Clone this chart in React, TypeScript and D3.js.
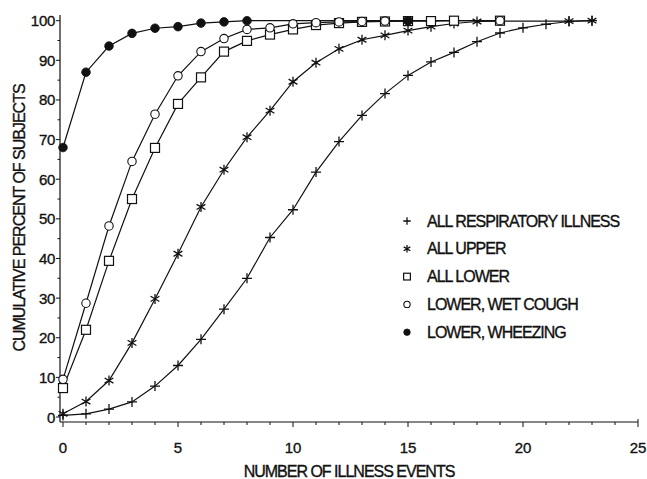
import React, { useEffect, useRef } from 'react';
import * as d3 from 'd3';

// cumulative percent of subjects by number of illness events
const respX = [0, 1, 2, 3, 4, 5, 6, 7, 8, 9, 10, 11, 12, 13, 14, 15, 16, 17, 18, 19, 20, 21, 22, 23];
const respY = [0.4, 0.8, 2, 3.8, 7.8, 13, 19.6, 27.2, 35, 45.3, 52.3, 61.8, 69.5, 76.1, 81.6, 86.2, 89.6, 92, 94.7, 96.9, 98.2, 99.1, 99.8, 100];

const upperX = [0, 1, 2, 3, 4, 5, 6, 7, 8, 9, 10, 11, 12, 13, 14, 15, 16, 17, 18, 19, 22, 23];
const upperY = [0.8, 3.9, 9.2, 18.7, 29.8, 41.2, 53, 62.4, 70.6, 77.3, 84.6, 89.4, 92.9, 95.2, 96.3, 97.5, 98.5, 99.3, 99.8, 99.9, 99.9, 100];

const lowerX = [0, 1, 2, 3, 4, 5, 6, 7, 8, 9, 10, 11, 12, 13, 14, 15, 16, 17, 19];
const lowerY = [7.3, 22, 39.4, 55, 67.9, 79, 85.7, 92.2, 94.9, 96.5, 97.8, 98.9, 99.4, 99.7, 99.8, 99.9, 99.9, 100, 100];

const coughX = [0, 1, 2, 3, 4, 5, 6, 7, 8, 9, 10, 11, 12, 13, 14, 15, 19];
const coughY = [9.5, 28.7, 48.2, 64.5, 76.4, 86.1, 92.2, 95.5, 97.8, 98.2, 99.2, 99.5, 99.7, 99.8, 99.9, 100, 100];

const wheezeX = [0, 1, 2, 3, 4, 5, 6, 7, 8, 15];
const wheezeY = [68, 87, 93.6, 96.8, 98.1, 98.5, 99.4, 99.7, 100, 100];

const seriesNames = ['ALL RESPIRATORY ILLNESS', 'ALL UPPER', 'ALL LOWER', 'LOWER, WET COUGH', 'LOWER, WHEEZING'];
const seriesMarkers = ['plus', 'star', 'square', 'circle', 'dot'];

const xTicks = [0, 5, 10, 15, 20, 25];
const yTicks = [0, 10, 20, 30, 40, 50, 60, 70, 80, 90, 100];

const FONT = '"Liberation Sans", Arial, Helvetica, sans-serif';

const drawMarker = (g: any, kind: string, x: number, y: number, s: number) => {
  if (kind === 'plus') {
    g.append('path')
      .attr('d', `M${x - 5 * s},${y}H${x + 5 * s}M${x},${y - 5 * s}V${y + 5 * s}`)
      .attr('stroke', '#111').attr('stroke-width', 1.3).attr('fill', 'none');
  } else if (kind === 'star') {
    const a = 4.4 * s, b = 2.6 * s, c = 5 * s;
    g.append('path')
      .attr('d', `M${x},${y - c}V${y + c}M${x - a},${y - b}L${x + a},${y + b}M${x - a},${y + b}L${x + a},${y - b}`)
      .attr('stroke', '#111').attr('stroke-width', 1.3).attr('fill', 'none');
  } else if (kind === 'square') {
    const h = 4.5 * s;
    g.append('rect')
      .attr('x', x - h).attr('y', y - h).attr('width', 2 * h).attr('height', 2 * h)
      .attr('fill', 'white').attr('stroke', '#111').attr('stroke-width', 1.2);
  } else if (kind === 'circle') {
    g.append('circle')
      .attr('cx', x).attr('cy', y).attr('r', 4.2 * s)
      .attr('fill', 'white').attr('stroke', '#111').attr('stroke-width', 1.1);
  } else {
    g.append('circle')
      .attr('cx', x).attr('cy', y).attr('r', 4.3 * s)
      .attr('fill', '#111').attr('stroke', '#111').attr('stroke-width', 0.8);
  }
};

// slightly heavier text, like the printed original
const styleText = (t: any, size: number, spacing: number) =>
  t.style('font-family', FONT).style('font-size', `${size}px`).style('fill', '#111')
    .style('letter-spacing', `${spacing}px`)
    .attr('stroke', '#111').attr('stroke-width', 0.35);

const App: React.FC = () => {
  const svgRef = useRef<SVGSVGElement | null>(null);

  useEffect(() => {
    if (!svgRef.current) return;
    const svg = d3.select(svgRef.current);
    svg.selectAll('*').remove();

    const x = d3.scaleLinear().domain([0, 25]).range([63, 638]);
    const y = d3.scaleLinear().domain([0, 100]).range([417, 20.7]);

    const axisY = 422;
    const axisX = 60;

    // axes lines
    svg.append('line')
      .attr('x1', axisX).attr('x2', x(25)).attr('y1', axisY).attr('y2', axisY)
      .attr('stroke', '#111').attr('stroke-width', 1.2);
    svg.append('line')
      .attr('x1', axisX).attr('x2', axisX).attr('y1', 15).attr('y2', axisY)
      .attr('stroke', '#111').attr('stroke-width', 1.2);

    // x ticks
    d3.range(0, 26).forEach(v => {
      const major = v % 5 === 0;
      svg.append('line')
        .attr('x1', x(v)).attr('x2', x(v))
        .attr('y1', v === 25 ? axisY - 3 : axisY).attr('y2', axisY + (major ? 5 : 3))
        .attr('stroke', '#111').attr('stroke-width', 1);
    });
    xTicks.forEach(v => {
      styleText(svg.append('text')
        .attr('x', x(v)).attr('y', 453)
        .attr('text-anchor', 'middle'), 15, 0)
        .text(v);
    });

    // y ticks
    d3.range(0, 101, 5).forEach(v => {
      const major = v % 10 === 0;
      svg.append('line')
        .attr('x1', axisX - (major ? 4 : 2.5)).attr('x2', axisX)
        .attr('y1', y(v)).attr('y2', y(v))
        .attr('stroke', '#111').attr('stroke-width', 1);
    });
    yTicks.forEach(v => {
      styleText(svg.append('text')
        .attr('x', 55).attr('y', y(v) + 5.5)
        .attr('text-anchor', 'end'), 15, -0.3)
        .text(v);
    });

    // axis titles
    styleText(svg.append('text')
      .attr('x', 349).attr('y', 477)
      .attr('text-anchor', 'middle'), 16, -1)
      .text('NUMBER OF ILLNESS EVENTS');
    styleText(svg.append('text')
      .attr('transform', 'translate(25,218) rotate(-90)')
      .attr('text-anchor', 'middle'), 16, -1)
      .text('CUMULATIVE PERCENT OF SUBJECTS');

    // series
    const series = [
      { xs: respX, ys: respY },
      { xs: upperX, ys: upperY },
      { xs: lowerX, ys: lowerY },
      { xs: coughX, ys: coughY },
      { xs: wheezeX, ys: wheezeY },
    ];
    const line = d3.line<[number, number]>()
      .x(d => x(d[0]))
      .y(d => y(d[1]));

    series.forEach(s => {
      const pts = s.xs.map((v, i) => [v, s.ys[i]] as [number, number]);
      svg.append('path')
        .attr('d', line(pts) as string)
        .attr('fill', 'none').attr('stroke', '#111').attr('stroke-width', 1.2);
    });
    series.forEach((s, si) => {
      const g = svg.append('g');
      s.xs.forEach((v, i) => drawMarker(g, seriesMarkers[si], x(v), y(s.ys[i]), 1));
    });

    // legend
    const legend = svg.append('g');
    seriesNames.forEach((name, i) => {
      const cy = 221 + i * 27.8;
      drawMarker(legend, seriesMarkers[i], 407, cy, 0.75);
      styleText(legend.append('text')
        .attr('x', 427).attr('y', cy + 5.6), 16, -1)
        .text(name);
    });
  }, []);

  return (
    <svg ref={svgRef} width={647} height={479}
      style={{ position: 'absolute', left: 0, top: 0, background: 'white' }} />
  );
};

export default App;
